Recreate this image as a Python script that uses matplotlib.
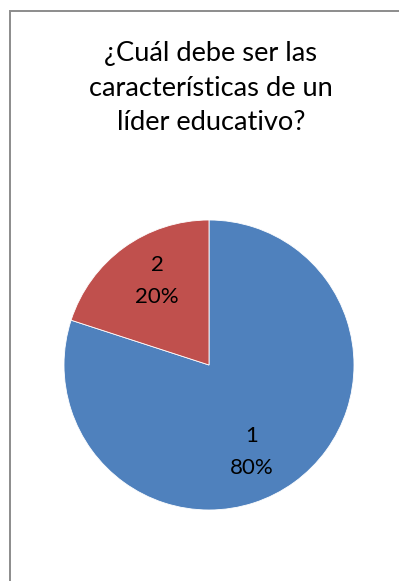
import matplotlib
matplotlib.use("Agg")
import matplotlib.pyplot as plt
from matplotlib.patches import Rectangle

categories = ["1", "2"]
shares = [80, 20]
colors = ["#4F81BD", "#C0504D"]
title = "¿Cuál debe ser las\ncaracterísticas de un\nlíder educativo?"

W, H = 399, 581
fig = plt.figure(figsize=(W / 100, H / 100), dpi=100)
fig.patch.set_facecolor("white")

# chart-area border (only the top and left edges fall inside the canvas)
fig.add_artist(Rectangle((9.5 / W, -0.05), 1.2, 1 - 11 / H + 0.05,
                         transform=fig.transFigure, fill=False,
                         edgecolor="#8c8c8c", linewidth=1.4))

fig.text(211 / W, 1 - 88 / H, title, ha="center", va="center",
         fontsize=19.6, family="Lato", linespacing=1.45, color="#000000")

cx, cy, r = 209, 365, 145
ax = fig.add_axes([(cx - r) / W, 1 - (cy + r) / H, 2 * r / W, 2 * r / H])

def fmt(pct, it=iter(categories)):
    return f"{next(it)}\n{pct:.0f}%"

wedges, texts, autotexts = ax.pie(
    shares, colors=colors, startangle=90, counterclock=False,
    wedgeprops=dict(edgecolor="white", linewidth=0.6),
    autopct=fmt, pctdistance=0.68,
    textprops=dict(fontsize=16, family="Lato", linespacing=1.8))

# data-label placement inside each slice
label_pos = [(0.297, -0.60), (-0.359, 0.579)]
for t, p in zip(autotexts, label_pos):
    t.set_position(p)

ax.set_xlim(-1, 1)
ax.set_ylim(-1, 1)
ax.set_aspect("equal")
ax.axis("off")

fig.savefig("out.png", dpi=100)
